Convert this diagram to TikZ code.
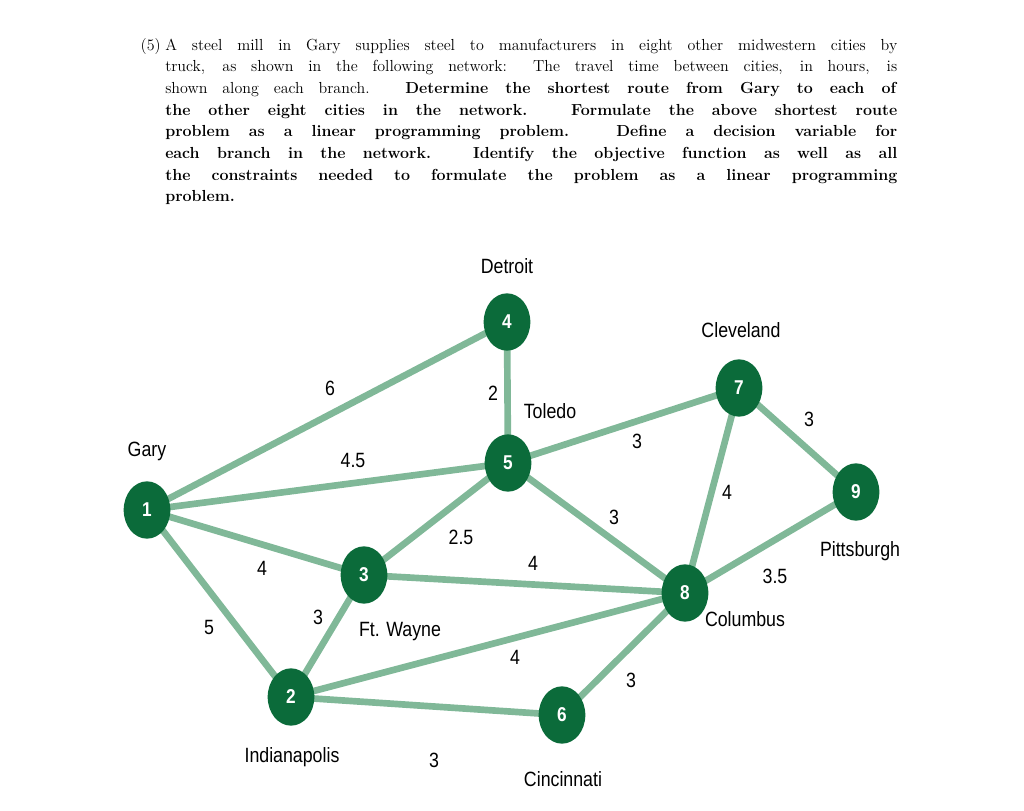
\documentclass[tikz,border=0pt]{standalone}
\usepackage{fontspec}
\newfontfamily\lab[FakeStretch=0.86]{Liberation Sans}
\begin{document}
\begin{tikzpicture}[x=0.75pt,y=-0.75pt,
 city/.style={ellipse,fill=nodegreen,minimum width=35pt,minimum height=43pt,inner sep=0pt,text=white,font=\lab\fontsize{15}{15}\selectfont\bfseries},
 edge/.style={draw=edgegreen,line width=5pt},
 lbl/.style={font=\lab\fontsize{15.5}{16}\selectfont,inner sep=0pt},
 txt/.style={anchor=base west,inner sep=0pt,font=\fontsize{12}{14}\selectfont}]
\definecolor{nodegreen}{HTML}{0B6B3A}
\definecolor{edgegreen}{HTML}{80B898}
\useasboundingbox (0,0) rectangle (1024,810);
\usetikzlibrary{shapes.geometric}
% text
\node[txt,anchor=base east] (n5) at (161,50) {(5)};
\node[txt] (l1) at (165,50) {\makebox[549pt][s]{A steel mill in Gary supplies steel to manufacturers in eight other midwestern cities by}};
\node[txt] (l2) at (165,71.7) {\makebox[549pt][s]{truck, as shown in the following network: The travel time between cities, in hours, is}};
\node[txt] (l3) at (165,93.4) {\makebox[549pt][s]{shown along each branch. \textbf{Determine the shortest route from Gary to each of}}};
\node[txt] (l4) at (165,115.1) {\makebox[549pt][s]{\textbf{the other eight cities in the network. Formulate the above shortest route}}};
\node[txt] (l5) at (165,136.8) {\makebox[549pt][s]{\textbf{problem as a linear programming problem. Define a decision variable for}}};
\node[txt] (l6) at (165,158.5) {\makebox[549pt][s]{\textbf{each branch in the network. Identify the objective function as well as all}}};
\node[txt] (l7) at (165,180.2) {\makebox[549pt][s]{\textbf{the constraints needed to formulate the problem as a linear programming}}};
\node[txt] (l8) at (165,201.9) {\textbf{problem.}};
% coordinates
\coordinate (p1) at (147,510); \coordinate (p4) at (507,322); \coordinate (p5) at (508,463);
\coordinate (p7) at (739,388); \coordinate (p9) at (856,492); \coordinate (p3) at (364,575);
\coordinate (p8) at (685,593); \coordinate (p2) at (291,697); \coordinate (p6) at (562,715);
\foreach \a/\b in {1/4,1/5,1/3,1/2,4/5,5/7,5/3,5/8,7/9,7/8,9/8,3/8,3/2,2/8,2/6,6/8}
  \draw[edge] (p\a) -- (p\b);
\foreach \i in {1,...,9} \node[city] (c\i) at (p\i) {\i};
% city names
\node[lbl] (gary) at (147,451) {Gary};
\node[lbl] (det) at (507,266) {Detroit};
\node[lbl] (tol) at (550,411) {Toledo};
\node[lbl] (cle) at (741,330) {Cleveland};
\node[lbl] (pit) at (860,551) {Pittsburgh};
\node[lbl] (ftw) at (400,632) {Ft. Wayne};
\node[lbl] (col) at (745,619) {Columbus};
\node[lbl] (ind) at (292,757) {Indianapolis};
\node[lbl] (cin) at (563,779) {Cincinnati};
% weights
\node[lbl] (w14) at (330,388) {6};
\node[lbl] (w15) at (353,460) {4.5};
\node[lbl] (w45) at (493,393) {2};
\node[lbl] (w57) at (637,441) {3};
\node[lbl] (w79) at (809,419) {3};
\node[lbl] (w78) at (727,492) {4};
\node[lbl] (w58) at (614,517) {3};
\node[lbl] (w53) at (461,537) {2.5};
\node[lbl] (w38) at (533,563) {4};
\node[lbl] (w13) at (262,568) {4};
\node[lbl] (w98) at (775,576) {3.5};
\node[lbl] (w12) at (209,627) {5};
\node[lbl] (w32) at (318,617) {3};
\node[lbl] (w28) at (515,657) {4};
\node[lbl] (w68) at (631,680) {3};
\node[lbl] (w26) at (434,760) {3};
\end{tikzpicture}
\end{document}
